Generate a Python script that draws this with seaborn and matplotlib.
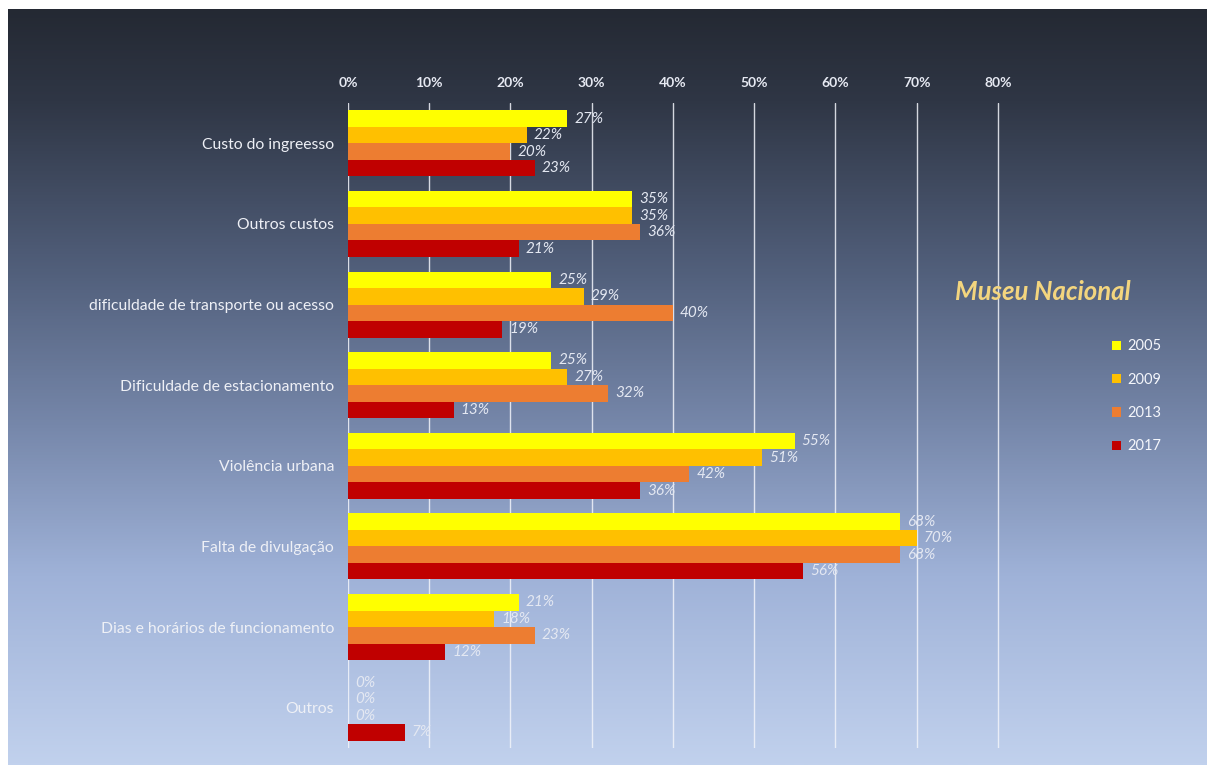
import numpy as np
import pandas as pd
import matplotlib
matplotlib.use("Agg")
import matplotlib.pyplot as plt
from matplotlib.colors import LinearSegmentedColormap
from matplotlib.ticker import FuncFormatter
import seaborn as sns

# Survey data: reasons for not visiting the museum (share of respondents)
categories = [
    "Custo do ingreesso",
    "Outros custos",
    "dificuldade de transporte ou acesso",
    "Dificuldade de estacionamento",
    "Violência urbana",
    "Falta de divulgação",
    "Dias e horários de funcionamento",
    "Outros",
]
years = ["2005", "2009", "2013", "2017"]
values_2005 = [27, 35, 25, 25, 55, 68, 21, 0]
values_2009 = [22, 35, 29, 27, 51, 70, 18, 0]
values_2013 = [20, 36, 40, 32, 42, 68, 23, 0]
values_2017 = [23, 21, 19, 13, 36, 56, 12, 7]
tick_values = [0, 10, 20, 30, 40, 50, 60, 70, 80]

palette = {"2005": "#FFFF00", "2009": "#FFC000", "2013": "#ED7D31", "2017": "#C00000"}

series = [values_2005, values_2009, values_2013, values_2017]
rows = []
for year, vals in zip(years, series):
    for cat, v in zip(categories, vals):
        rows.append({"categoria": cat, "ano": year, "valor": v})
df = pd.DataFrame(rows)

sns.set_style("white")
plt.rcParams["font.family"] = ["Lato", "DejaVu Sans"]

W, H = 1207, 765
fig = plt.figure(figsize=(W / 100, H / 100), dpi=100, facecolor="white")

# Gradient slide background
bg = fig.add_axes([8 / W, 0, 1 - 8 / W, 1 - 9 / H])
bg.set_zorder(-10)
cmap = LinearSegmentedColormap.from_list(
    "slide",
    [(0.0, "#242933"), (0.12, "#2f3645"), (0.35, "#52607c"),
     (0.55, "#7687aa"), (0.75, "#9fb2d8"), (1.0, "#c1d1ed")],
)
grad = np.linspace(0, 1, 512).reshape(-1, 1)
bg.imshow(grad, aspect="auto", cmap=cmap, extent=[0, 1, 0, 1], origin="upper")
bg.axis("off")

left, right = 348 / W, 1000 / W
top, bottom = 1 - 103 / H, 1 - 748 / H
ax = fig.add_axes([left, bottom, right - left, top - bottom])
ax.set_facecolor("none")

sns.barplot(
    data=df, y="categoria", x="valor", hue="ano", order=categories,
    hue_order=years, palette=palette, orient="h", width=0.82,
    linewidth=0, saturation=1, ax=ax, zorder=3,
)

ax.set_xlim(0, 80.25)
ax.set_xticks(tick_values)
ax.xaxis.set_major_formatter(FuncFormatter(lambda v, p: f"{v:.0f}%"))
ax.xaxis.tick_top()
ax.tick_params(axis="x", length=0, pad=10, labelsize=10, labelcolor="#e6e9f2")
ax.tick_params(axis="y", length=0, pad=10, labelsize=11.3, labelcolor="#eef0f6")
for lbl in ax.get_xticklabels():
    lbl.set_fontweight("bold")
ax.set_xlabel("")
ax.set_ylabel("")
for s in ax.spines.values():
    s.set_visible(False)
ax.grid(axis="x", color="#f2f4fa", linewidth=1.0, alpha=0.85, zorder=0)
ax.grid(axis="y", visible=False)
ax.set_axisbelow(True)

# Value labels at the end of each bar
for container in ax.containers:
    ax.bar_label(container, labels=[f"{v:.0f}%" for v in container.datavalues],
                 padding=5, fontsize=11, fontstyle="italic",
                 color="#e4e8f2", zorder=5)

# Legend to the right of the plot area
handles, labels = ax.get_legend_handles_labels()
ax.legend_.remove()
leg = fig.legend(
    handles, labels, loc="upper left", bbox_to_anchor=(1105 / W, 1 - 332 / H),
    frameon=False, fontsize=10.5, handlelength=0.6, handleheight=0.6,
    handletextpad=0.45, labelspacing=1.33, borderpad=0,
)
for t in leg.get_texts():
    t.set_color("#f4f6fb")

fig.text(955 / W, 1 - 292 / H, "Museu Nacional", fontsize=18.5, fontstyle="italic",
         fontweight="bold", color="#f3d57e", va="center", ha="left")

fig.savefig("out.png", dpi=100, facecolor="white")
